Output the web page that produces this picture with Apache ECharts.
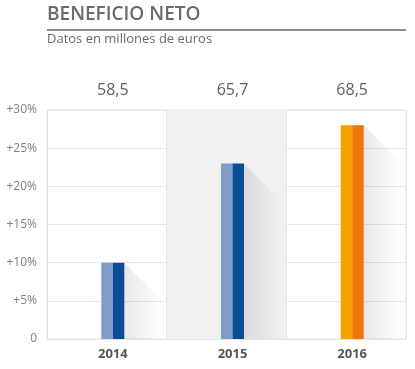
<!DOCTYPE html>
<html>
<head>
<meta charset="utf-8">
<script src="https://cdn.jsdelivr.net/npm/echarts@6/dist/echarts.min.js"></script>
<style>html,body{margin:0;padding:0;background:#fff}#c{width:415px;height:369px}</style>
</head>
<body>
<div id="c"></div>
<script>
const categories = ['2014', '2015', '2016'];
const growthPct = [10, 23, 28];
const netProfitLabels = ['58,5', '65,7', '68,5'];
const yTicks = [0, 5, 10, 15, 20, 25, 30];

const lightColors = ['#7f9bc8', '#7f9bc8', '#f5a100'];
const darkColors = ['#0b4d94', '#0b4d94', '#ec7705'];
const FONT = '"Open Sans", "Noto Sans", sans-serif';

const chart = echarts.init(document.getElementById('c'), null, {renderer: 'canvas'});

chart.setOption({
  animation: false,
  backgroundColor: '#ffffff',
  grid: {left: 47, right: 9, top: 110, bottom: 30, show: true, borderColor: '#e4e4e6', borderWidth: 1, backgroundColor: 'transparent'},
  graphic: [
    {type: 'text', left: 47, top: 5, style: {text: 'BENEFICIO NETO', font: '600 19px ' + FONT, fill: '#6b6b6b'}},
    {type: 'rect', shape: {x: 47, y: 29, width: 359, height: 2}, style: {fill: '#8a8a8a'}},
    {type: 'text', left: 47, top: 33, style: {text: 'Datos en millones de euros', font: '13px ' + FONT, fill: '#6a6a6a'}}
  ],
  xAxis: [
    {
      type: 'category', data: categories, position: 'bottom',
      axisLine: {show: true, lineStyle: {color: '#e4e4e6'}},
      axisTick: {show: false},
      axisLabel: {color: '#555', fontFamily: FONT, fontWeight: 'bold', fontSize: 13, margin: 9, padding: [0, 0, 0, 12]},
      splitLine: {show: true, lineStyle: {color: '#e4e4e6'}},
      splitArea: {show: true, areaStyle: {color: ['rgba(255,255,255,0)', '#f0f0f3']}}
    },
    {
      type: 'category', data: netProfitLabels, position: 'top',
      axisLine: {show: false}, axisTick: {show: false},
      axisLabel: {color: '#5e5e5e', fontFamily: FONT, fontSize: 16, margin: 12, padding: [0, 0, 0, 12]},
      splitLine: {show: false}
    }
  ],
  yAxis: {
    type: 'value', min: 0, max: 30, interval: 5,
    axisLine: {show: true, lineStyle: {color: '#e4e4e6'}},
    axisTick: {show: false},
    axisLabel: {color: '#808080', fontFamily: FONT, fontSize: 12, margin: 10,
      formatter: v => (yTicks.indexOf(v) >= 0 ? (v === 0 ? '0' : '+' + v + '%') : '')},
    splitLine: {show: true, lineStyle: {color: '#e6e6e8'}}
  },
  series: [{
    type: 'custom',
    xAxisIndex: 0,
    data: growthPct.map((v, i) => [i, v]),
    renderItem: function (params, api) {
      const i = api.value(0);
      const top = api.coord([i, api.value(1)]);
      const base = api.coord([i, 0]);
      const cx = top[0] + 6;
      const half = 11.5;
      const h = base[1] - top[1];
      const right = cx + half;
      const W = 38;
      return {
        type: 'group',
        children: [
          {
            type: 'polygon',
            shape: {points: [[right, top[1]], [right + W, top[1] + W], [right + W, base[1]], [right, base[1]]]},
            style: {fill: new echarts.graphic.LinearGradient(0, 0, 1, 0, [
              {offset: 0, color: 'rgba(0,0,0,0.09)'},
              {offset: 1, color: 'rgba(0,0,0,0)'}
            ])}
          },
          {type: 'rect', shape: {x: cx - half, y: top[1], width: half, height: h}, style: {fill: lightColors[i]}},
          {type: 'rect', shape: {x: cx, y: top[1], width: half, height: h}, style: {fill: darkColors[i]}}
        ]
      };
    }
  }]
});
</script>
</body>
</html>
